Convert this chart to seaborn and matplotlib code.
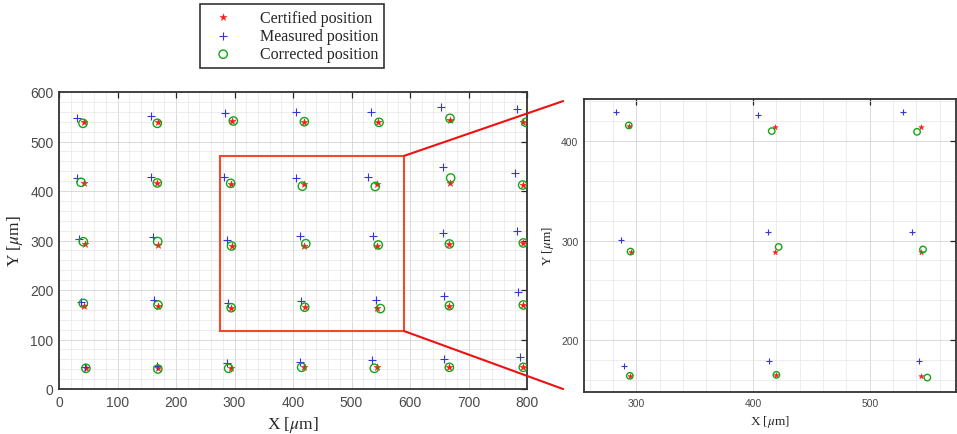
import pandas as pd
import seaborn as sns
import matplotlib.pyplot as plt
from matplotlib.patches import Rectangle, ConnectionPatch
from matplotlib.ticker import MultipleLocator

# values, row by row (top row first), columns left to right
cert_x = [43.3, 169.2, 295.0, 419.4, 545.9, 668.4, 793.7,
          43.3, 168.0, 293.4, 419.1, 544.3, 668.4, 792.6,
          44.4, 168.7, 294.9, 419.1, 544.3, 667.3, 793.7,
          43.3, 169.2, 294.3, 420.0, 544.3, 667.3, 793.7,
          45.6, 169.2, 294.0, 418.8, 543.0, 667.3, 793.7]
cert_y = [540.0, 540.0, 541.4, 540.0, 540.0, 543.4, 540.0,
          416.2, 416.2, 415.0, 414.2, 414.2, 416.2, 412.1,
          293.0, 291.6, 288.9, 288.9, 288.9, 293.0, 295.0,
          168.4, 168.4, 164.2, 165.2, 164.5, 168.4, 169.7,
          41.8, 41.8, 43.1, 43.8, 43.8, 43.8, 43.8]

meas_x = [30.2, 156.7, 283.8, 405.0, 532.8, 652.4, 783.5,
          30.2, 156.7, 282.3, 404.6, 528.6, 657.1, 779.5,
          34.8, 161.3, 286.6, 412.6, 536.0, 656.0, 782.4,
          37.6, 162.4, 289.4, 413.4, 542.3, 658.7, 785.2,
          44.4, 167.0, 286.6, 412.0, 534.5, 658.7, 787.9]
meas_y = [547.5, 550.8, 558.2, 559.0, 559.0, 569.0, 565.7,
          425.6, 427.6, 429.0, 426.0, 428.7, 447.8, 436.4,
          303.0, 307.7, 300.7, 308.4, 308.8, 314.5, 318.5,
          176.4, 179.0, 174.3, 178.7, 179.4, 188.6, 195.3,
          43.8, 47.0, 51.9, 55.2, 58.6, 60.6, 64.0]

corr_x = [41.0, 168.0, 298.0, 419.4, 547.0, 668.4, 798.3,
          37.6, 168.0, 293.4, 416.0, 540.6, 669.5, 792.6,
          41.6, 168.7, 294.9, 421.9, 545.7, 667.3, 793.7,
          41.6, 169.2, 294.3, 420.0, 549.4, 667.3, 793.7,
          46.0, 169.0, 290.0, 414.8, 539.0, 667.3, 793.7]
corr_y = [536.7, 536.7, 541.4, 540.0, 538.7, 546.8, 538.7,
          417.5, 416.2, 415.5, 409.8, 409.1, 426.3, 412.0,
          297.6, 298.0, 288.9, 293.6, 291.0, 293.0, 295.0,
          173.0, 169.7, 164.2, 165.2, 162.5, 168.4, 169.7,
          41.8, 40.4, 41.8, 43.8, 41.8, 43.8, 43.8]

labels = ["Certified position", "Measured position", "Corrected position"]
RED, BLUE, GREEN = "#ff1a1a", "#3535d8", "#14a514"

sns.set_style("white")
plt.rcParams['font.family'] = ['Liberation Sans', 'DejaVu Sans']
plt.rcParams['mathtext.fontset'] = 'stix'

data = pd.DataFrame({'cx': cert_x, 'cy': cert_y, 'mx': meas_x, 'my': meas_y,
                     'ox': corr_x, 'oy': corr_y})

fig = plt.figure(figsize=(9.57, 4.35), dpi=100)
ax1 = fig.add_axes([59/957, 45/435, 468/957, 297/435])
ax2 = fig.add_axes([584/957, 42/435, 372/957, 293/435])


def draw(ax, big):
    k = 1.0 if big else 0.6
    sns.scatterplot(data=data, x='cx', y='cy', ax=ax, marker='*', s=28*k,
                    color=RED, edgecolor=RED, linewidth=0.3, label=labels[0], zorder=3)
    sns.scatterplot(data=data, x='mx', y='my', ax=ax, marker='+', s=34*k,
                    color=BLUE, linewidth=0.8, label=labels[1], zorder=3)
    sns.scatterplot(data=data, x='ox', y='oy', ax=ax, marker='o', s=36*k,
                    color=GREEN, facecolors='none', edgecolor=GREEN,
                    linewidth=1.0, label=labels[2], zorder=4)


def style(ax, xlim, ylim, xt, yt, fs, lfs):
    ax.set_xlim(xlim)
    ax.set_ylim(ylim)
    ax.set_xticks(xt)
    ax.set_yticks(yt)
    ax.xaxis.set_minor_locator(MultipleLocator(20))
    ax.yaxis.set_minor_locator(MultipleLocator(20))
    ax.grid(which='major', color='#d4d4d4', lw=0.6)
    ax.grid(which='minor', color='#e6e6e6', lw=0.5)
    ax.set_axisbelow(True)
    ax.tick_params(which='major', direction='in', top=True, right=True,
                   length=4, width=0.9, color='#262626', labelsize=fs,
                   labelcolor='#4a4a4a', pad=4)
    ax.tick_params(which='minor', length=0)
    for s in ax.spines.values():
        s.set_color('#333333')
        s.set_linewidth(1.3)
    ax.set_xlabel(r"X [$\mu$m]", family='Liberation Serif', fontsize=lfs, color='#262626')
    ax.set_ylabel(r"Y [$\mu$m]", family='Liberation Serif', fontsize=lfs, color='#262626')
    ax.get_legend().remove()


draw(ax1, True)
style(ax1, (0, 800), (0, 600), range(0, 801, 100), range(0, 601, 100), 10, 12.5)
draw(ax2, False)
style(ax2, (255, 574), (148, 442), [300, 400, 500], [200, 300, 400], 7.5, 9.5)

# zoom window and the lines to the enlarged view
ax1.add_patch(Rectangle((275, 117), 315, 354, fill=False, edgecolor='#ee4a2c',
                        lw=1.5, zorder=5))
for ya, yb in [(471, 0.993), (117, 0.010)]:
    con = ConnectionPatch(xyA=(590, ya), coordsA=ax1.transData,
                          xyB=(-0.056, yb), coordsB=ax2.transAxes,
                          color='#f01010', lw=1.5)
    fig.add_artist(con)

handles, labs = ax1.get_legend_handles_labels()
leg = fig.legend(handles, labs, loc='upper left', bbox_to_anchor=(200/957, 1 - 5/435),
                 prop={'family': 'Liberation Serif', 'size': 11.5}, frameon=True,
                 fancybox=False, edgecolor='#333333', framealpha=1,
                 borderaxespad=0, handletextpad=1.2, labelspacing=0.15,
                 borderpad=0.35, handlelength=2.2)
leg.get_frame().set_linewidth(1.2)

plt.savefig("out.png", dpi=100)
